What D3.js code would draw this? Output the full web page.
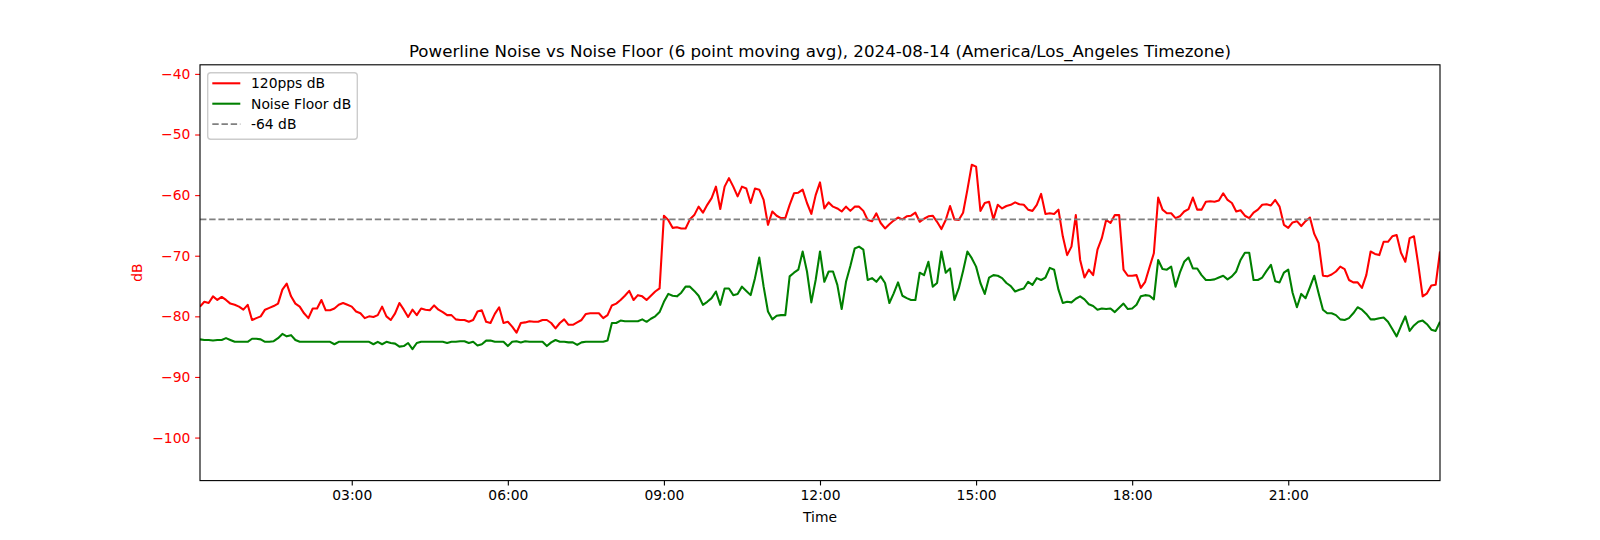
<!DOCTYPE html>
<html><head><meta charset="utf-8">
<script src="https://cdn.jsdelivr.net/npm/d3@7"></script>
<style>
body{margin:0;background:#fff;}
svg{display:block;font-family:"DejaVu Sans",sans-serif;}
</style>
</head><body>
<svg id="chart" width="1600" height="540"></svg>
<script>
const chartTitle = "Powerline Noise vs Noise Floor (6 point moving avg), 2024-08-14 (America/Los_Angeles Timezone)";
const startTime = [2024, 7, 14, 0, 5];   // first sample 2024-08-14 00:05
const stepMinutes = 5;
const seriesNames = ["120pps dB", "Noise Floor dB", "-64 dB"];
const thresholdDb = -64;
const yTicks = [-100, -90, -80, -70, -60, -50, -40];
const xTickLabels = ["03:00", "06:00", "09:00", "12:00", "15:00", "18:00", "21:00"];
const yLabel = "dB";
const xLabel = "Time";

const pps120 = [
-78.4,-77.6,-77.8,-76.7,-77.3,-76.8,-77.3,-77.9,-78.1,-78.4,
-78.9,-78.1,-80.6,-80.3,-80.0,-78.9,-78.6,-78.3,-77.9,-75.6,
-74.6,-76.7,-77.9,-78.4,-79.5,-80.3,-78.7,-78.7,-77.3,-79.0,
-79.0,-78.7,-78.1,-77.8,-78.1,-78.4,-79.2,-79.5,-80.3,-80.0,
-80.1,-79.8,-78.4,-80.0,-80.6,-79.5,-77.8,-78.9,-80.1,-78.9,
-79.8,-78.7,-78.9,-79.0,-78.2,-78.9,-79.3,-79.8,-79.8,-80.5,
-80.6,-80.6,-80.9,-80.6,-79.2,-79.0,-80.9,-81.1,-79.6,-78.5,
-81.1,-80.9,-81.7,-82.7,-81.1,-81.0,-80.8,-80.9,-80.9,-80.6,
-80.6,-81.1,-82.0,-81.1,-80.5,-81.4,-81.4,-81.0,-80.6,-79.6,
-79.5,-79.5,-79.5,-80.3,-79.8,-78.2,-77.9,-77.3,
-76.6,-75.8,-77.3,-76.5,-76.7,-77.3,-76.6,-75.9,-75.4,-63.4,
-64.1,-65.4,-65.3,-65.5,-65.5,-64.0,-63.3,-61.9,-62.9,-61.6,
-60.5,-58.6,-62.3,-58.6,-57.2,-58.6,-60.2,-58.6,-58.9,-61.3,
-58.9,-59.1,-60.8,-64.9,-62.7,-63.4,-63.8,-63.8,-61.6,-59.7,
-59.6,-59.1,-61.3,-63.1,-60.0,-57.9,-62.2,-61.2,-61.9,
-62.2,-62.7,-61.9,-62.6,-61.9,-61.9,-62.6,-64.1,-64.3,-63.0,
-64.6,-65.5,-64.8,-64.2,-63.7,-64.0,-63.5,-63.4,-62.9,-64.4,
-63.9,-63.5,-63.4,-64.4,-65.6,-64.1,-61.8,-64.0,-64.1,-62.9,
-59.1,-55.0,-55.3,-62.6,-61.3,-61.1,-64.0,-61.6,-62.2,-61.8,
-61.6,-61.2,-61.5,-61.6,-62.4,-62.6,-61.6,-59.8,
-63.1,-63.0,-63.1,-62.4,-66.8,-69.9,-68.5,-63.3,-70.7,-73.6,
-72.3,-73.2,-69.0,-67.1,-64.1,-64.6,-63.3,-63.3,-72.3,-73.3,
-73.3,-73.2,-75.3,-74.3,-71.9,-69.6,-60.4,-62.4,-63.0,-63.0,
-63.8,-63.5,-62.7,-62.3,-60.4,-62.4,-62.4,-61.1,-61.0,-61.1,
-60.9,-59.7,-60.8,-61.3,-62.7,-62.5,-63.4,-63.8,-62.9,
-62.4,-61.6,-61.5,-61.7,-60.8,-61.9,-64.9,-65.4,-64.5,-64.3,
-65.1,-64.3,-63.7,-66.4,-67.9,-73.3,-73.4,-73.1,-72.6,-71.8,
-72.2,-74.0,-74.4,-74.4,-75.3,-73.2,-69.3,-69.7,-69.9,-67.7,
-67.7,-66.8,-66.6,-69.5,-71.0,-67.1,-66.8,-71.5,-76.7,-76.2,
-74.9,-74.8,-69.3
];

const noiseFloor = [
-83.8,-83.9,-83.9,-84.0,-83.9,-83.9,-83.6,-83.9,-84.2,-84.2,
-84.2,-84.2,-83.7,-83.7,-83.8,-84.2,-84.2,-84.1,-83.6,-82.9,
-83.3,-83.1,-83.9,-84.2,-84.2,-84.2,-84.2,-84.2,-84.2,-84.2,
-84.2,-84.6,-84.2,-84.2,-84.2,-84.2,-84.2,-84.2,-84.2,-84.2,
-84.6,-84.2,-84.6,-84.2,-84.4,-84.5,-85.0,-84.9,-84.4,-85.4,
-84.4,-84.2,-84.2,-84.2,-84.2,-84.2,-84.2,-84.4,-84.2,-84.2,
-84.1,-84.1,-84.4,-84.2,-84.8,-84.6,-84.0,-84.0,-84.2,-84.2,
-84.2,-84.9,-84.2,-84.1,-84.3,-84.1,-84.2,-84.2,-84.2,-84.2,
-84.9,-84.3,-83.9,-84.2,-84.2,-84.3,-84.3,-84.7,-84.3,-84.2,
-84.2,-84.2,-84.2,-84.2,-84.0,-81.1,-81.1,-80.7,
-80.8,-80.8,-80.8,-80.8,-80.5,-80.9,-80.4,-80.0,-79.3,-77.6,
-76.3,-76.6,-76.7,-76.1,-75.1,-75.1,-75.8,-76.6,-78.1,-77.6,
-77.0,-75.9,-78.1,-75.4,-75.4,-76.5,-76.3,-75.1,-75.8,-76.5,
-73.7,-70.3,-75.1,-79.2,-80.5,-79.9,-79.8,-79.8,-73.4,-72.8,
-72.3,-69.3,-72.6,-77.7,-74.0,-69.3,-74.3,-72.6,-72.6,
-74.8,-78.8,-74.3,-71.7,-68.8,-68.5,-69.0,-74.0,-73.7,-74.3,
-73.4,-74.5,-77.8,-76.2,-74.4,-76.6,-77.0,-77.3,-77.3,-72.8,
-73.2,-71.0,-75.1,-74.5,-69.3,-72.8,-72.1,-77.3,-75.4,-72.5,
-69.3,-70.4,-71.8,-74.5,-76.3,-73.6,-73.2,-73.3,-73.7,-74.5,
-75.0,-75.9,-75.6,-75.4,-74.3,-74.8,-73.7,-74.0,
-73.6,-72.0,-72.3,-75.6,-77.8,-77.6,-77.7,-77.1,-76.7,-77.2,
-78.0,-78.3,-78.9,-78.7,-78.8,-78.7,-79.3,-78.6,-77.9,-78.8,
-78.7,-78.1,-76.7,-76.5,-76.6,-77.2,-70.7,-72.2,-72.3,-71.8,
-75.1,-72.8,-71.0,-70.3,-72.1,-72.1,-73.2,-74.0,-74.0,-73.9,
-73.6,-73.3,-73.9,-73.4,-72.6,-70.7,-69.5,-69.5,-74.0,
-74.0,-73.6,-72.5,-71.5,-74.2,-74.4,-72.8,-72.3,-76.1,-78.5,
-76.3,-77.0,-75.2,-73.3,-76.2,-78.9,-79.5,-79.5,-79.8,-80.5,
-80.6,-80.3,-79.5,-78.5,-78.9,-79.6,-80.5,-80.5,-80.3,-80.2,
-80.9,-82.1,-83.3,-81.6,-80.0,-82.4,-81.5,-80.9,-80.7,-81.3,
-82.2,-82.4,-80.9
];

const colors = ["#ff0000", "#008000", "#808080"];

const svg = d3.select("#chart");
const W = 1600, H = 540;
const m = {left: 200, right: 1440, top: 64.8, bottom: 480.6};
const fs = "13.89px";
const lw = 2.08;            // 1.5pt at 100 dpi
const dashLw = 1.74;        // dashed reference line
const dash = "6.4,2.8";
svg.append("rect").attr("width", W).attr("height", H).attr("fill", "#fff");

const times = pps120.map((_, i) => new Date(startTime[0], startTime[1], startTime[2], startTime[3], startTime[4] + stepMinutes * i));

const x = d3.scaleTime().domain(d3.extent(times)).range([m.left, m.right]);
const y = d3.scaleLinear().domain([-107.1, -38.5]).range([m.bottom, m.top]);

svg.append("defs").append("clipPath").attr("id", "clip")
  .append("rect").attr("x", m.left).attr("y", m.top).attr("width", m.right - m.left).attr("height", m.bottom - m.top);

const plot = svg.append("g").attr("clip-path", "url(#clip)");
const line = d3.line().x((d, i) => x(times[i])).y(d => y(d));

plot.append("path").datum(pps120).attr("d", line)
  .attr("fill", "none").attr("stroke", colors[0]).attr("stroke-width", lw).attr("stroke-linejoin", "round");
plot.append("path").datum(noiseFloor).attr("d", line)
  .attr("fill", "none").attr("stroke", colors[1]).attr("stroke-width", lw).attr("stroke-linejoin", "round");
plot.append("line")
  .attr("x1", m.left).attr("x2", m.right).attr("y1", y(thresholdDb)).attr("y2", y(thresholdDb))
  .attr("stroke", colors[2]).attr("stroke-width", dashLw).attr("stroke-dasharray", dash);

// Axes
const yAxis = svg.append("g").attr("transform", `translate(${m.left},0)`)
  .call(d3.axisLeft(y).tickValues(yTicks).tickSize(4.86).tickPadding(4.86).tickFormat(d3.format("d")));
yAxis.select(".domain").remove();
yAxis.selectAll(".tick line").attr("stroke", "#ff0000").attr("stroke-width", 1.11);
yAxis.selectAll(".tick text").attr("fill", "#ff0000").attr("font-size", fs).attr("font-family", "DejaVu Sans");

const parseHM = d3.timeParse("%H:%M");
const xTickValues = xTickLabels.map(s => {
  const p = parseHM(s);
  return new Date(startTime[0], startTime[1], startTime[2], p.getHours(), p.getMinutes());
});
const xAxis = svg.append("g").attr("transform", `translate(0,${m.bottom})`)
  .call(d3.axisBottom(x).tickValues(xTickValues).tickSize(4.86).tickPadding(4.86).tickFormat((d, i) => xTickLabels[i]));
xAxis.select(".domain").remove();
xAxis.selectAll(".tick line").attr("stroke", "#000").attr("stroke-width", 1.11);
xAxis.selectAll(".tick text").attr("fill", "#000").attr("font-size", fs).attr("font-family", "DejaVu Sans");

// Frame
svg.append("rect").attr("x", m.left).attr("y", m.top)
  .attr("width", m.right - m.left).attr("height", m.bottom - m.top)
  .attr("fill", "none").attr("stroke", "#000").attr("stroke-width", 1.11);

// Title and labels
svg.append("text").attr("x", (m.left + m.right) / 2).attr("y", 56.5)
  .attr("text-anchor", "middle").attr("font-size", "16.67px").attr("fill", "#000").text(chartTitle);
svg.append("text").attr("transform", `translate(136.5,${(m.top + m.bottom) / 2}) rotate(-90)`)
  .attr("text-anchor", "middle").attr("dominant-baseline", "central")
  .attr("font-size", fs).attr("fill", "#ff0000").text(yLabel);
svg.append("text").attr("x", (m.left + m.right) / 2).attr("y", 516.5)
  .attr("text-anchor", "middle").attr("dominant-baseline", "central")
  .attr("font-size", fs).attr("fill", "#000").text(xLabel);

// Legend
const lg = svg.append("g");
lg.append("rect").attr("x", 207.7).attr("y", 72.7).attr("width", 149.6).attr("height", 66.6)
  .attr("rx", 3).attr("fill", "#fff").attr("fill-opacity", 0.8).attr("stroke", "#cccccc").attr("stroke-width", 1.39);
seriesNames.forEach((name, k) => {
  const yy = 83.3 + 20.4 * k;
  lg.append("line").attr("x1", 212.3).attr("x2", 240.3).attr("y1", yy).attr("y2", yy)
    .attr("stroke", colors[k]).attr("stroke-width", k === 2 ? dashLw : lw)
    .attr("stroke-dasharray", k === 2 ? dash : null);
  lg.append("text").attr("x", 251).attr("y", yy).attr("dominant-baseline", "central")
    .attr("font-size", fs).attr("fill", "#000").text(name);
});
</script>
</body></html>
